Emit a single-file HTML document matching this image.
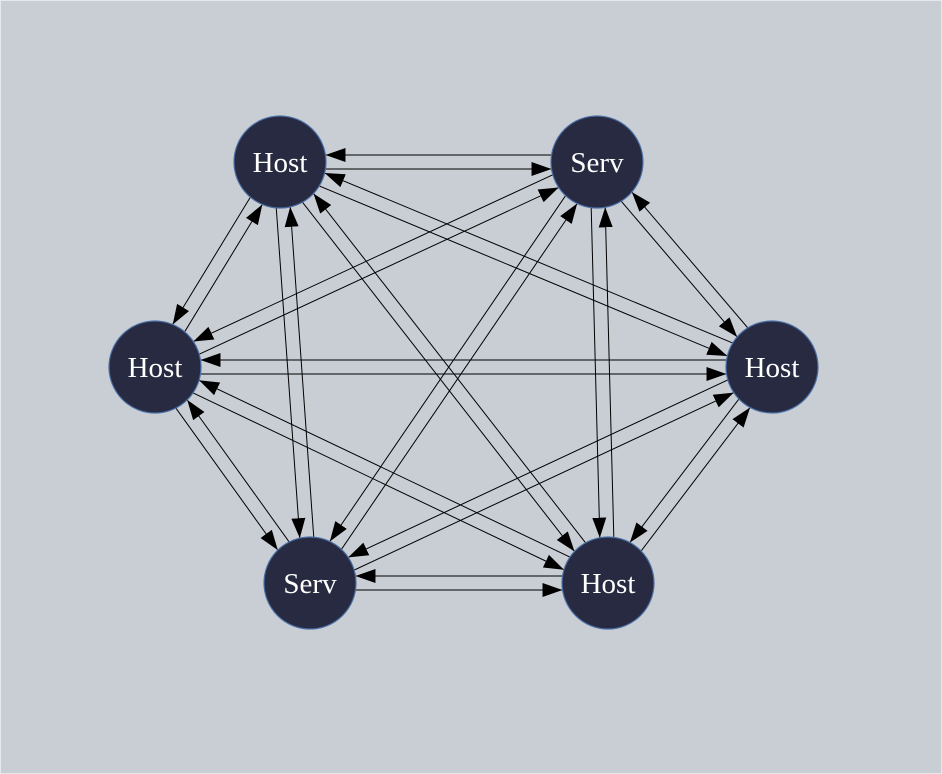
<!DOCTYPE html>
<html><head><meta charset="utf-8"><style>
html,body{margin:0;padding:0;background:#c9ced5;}
svg{display:block;}
text{font-family:"Liberation Serif",serif;font-size:29px;fill:#fff;}
</style></head><body>
<svg id="s" width="942" height="774" viewBox="0 0 942 774" xmlns="http://www.w3.org/2000/svg">
<defs><marker id="a" markerWidth="20" markerHeight="14" refX="20" refY="7" orient="auto" markerUnits="userSpaceOnUse"><path d="M0,0 L20,7 L0,14 z" fill="#000"/></marker></defs>
<rect x="0.5" y="0.5" width="941" height="773" fill="#c9ced5" stroke="#e6e8ec"/>
<g id="e"></g>
<g id="n"></g>
</svg>
<script>
var N=[[280,162,"Host"],[597,162,"Serv"],[155,367,"Host"],[772,367,"Host"],[310,583,"Serv"],[608,583,"Host"]];
var R=46,ns="http://www.w3.org/2000/svg",e=document.getElementById("e"),g=document.getElementById("n");
function line(a,b,off){var dx=b[0]-a[0],dy=b[1]-a[1],L=Math.hypot(dx,dy),ux=dx/L,uy=dy/L,px=-uy*off,py=ux*off;
var l=document.createElementNS(ns,"line");
l.setAttribute("x1",a[0]+ux*20+px);l.setAttribute("y1",a[1]+uy*20+py);
var t=Math.sqrt(R*R-off*off);
l.setAttribute("x2",b[0]-ux*t+px);l.setAttribute("y2",b[1]-uy*t+py);
l.setAttribute("stroke","#000");l.setAttribute("stroke-width","1");l.setAttribute("marker-end","url(#a)");e.appendChild(l);}
for(var i=0;i<6;i++)for(var j=i+1;j<6;j++){line(N[i],N[j],7);line(N[j],N[i],7);}
N.forEach(function(p){var c=document.createElementNS(ns,"circle");c.setAttribute("cx",p[0]);c.setAttribute("cy",p[1]);c.setAttribute("r",R);c.setAttribute("fill","#272a40");c.setAttribute("stroke","#4a6fa5");c.setAttribute("stroke-width","1.2");g.appendChild(c);
var t=document.createElementNS(ns,"text");t.setAttribute("x",p[0]);t.setAttribute("y",p[1]+10);t.setAttribute("text-anchor","middle");t.textContent=p[2];g.appendChild(t);});
</script>
</body></html>
